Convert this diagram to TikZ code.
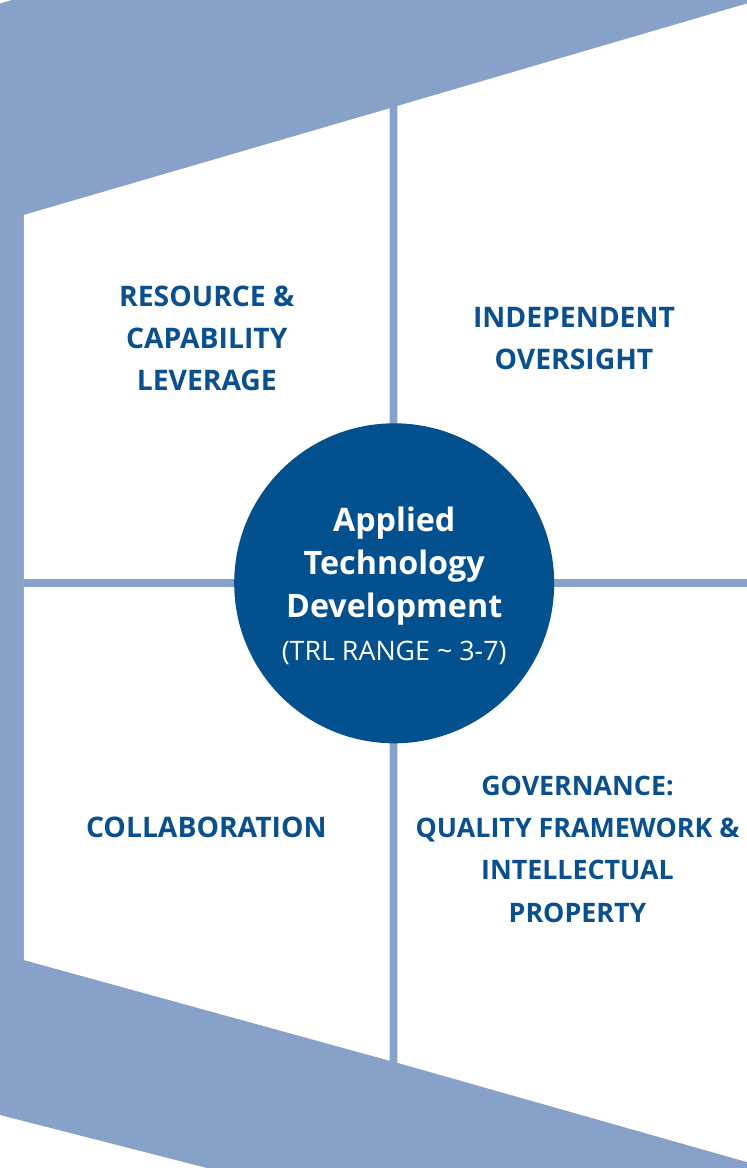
\documentclass[tikz,border=0pt]{standalone}
\usepackage{fontspec}
\setmainfont{Open Sans}
\definecolor{bandblue}{RGB}{136,161,201}
\definecolor{hubblue}{RGB}{3,80,143}
\definecolor{txtblue}{RGB}{10,79,142}
\tikzset{
  panel/.style={fill=white, draw=none},
  band/.style={fill=bandblue, draw=none},
  quad/.style={align=center, inner sep=0pt, text=txtblue, font=\bfseries\fontsize{28.3}{42}\selectfont},
  quadsmall/.style={quad, font=\bfseries\fontsize{26.8}{42.3}\selectfont},
  hub/.style={circle, fill=hubblue, draw=none, minimum size=320pt, inner sep=0pt},
  hubtitle/.style={align=center, inner sep=0pt, text=white, font=\bfseries\fontsize{32.3}{43}\selectfont},
  hubsub/.style={inner sep=0pt, text=white, font=\fontsize{26.8}{33}\selectfont}
}
\begin{document}
\begin{tikzpicture}[x=1pt,y=-1pt]
\useasboundingbox (0,0) rectangle (747,1168);
\fill[white] (0,0) rectangle (747,1168);
% background band shape
\fill[band] (12,0) -- (747,0) -- (747,1168) -- (207,1168) -- (0,1115) -- (0,3.5) -- cycle;
% white panels
\fill[panel] (23.8,215) -- (389.7,108.3) -- (389.7,1060.7) -- (23.8,960) -- cycle;
\fill[panel] (397.3,106) -- (747,3.5) -- (747,1162) -- (397.3,1062.7) -- cycle;
% horizontal divider
\fill[band] (23.8,579.3) rectangle (747,587.3);
% hub
\node[hub] (hub) at (394.2,583.3) {};
\node[hubtitle] (title) at (394.2,566.3) {Applied\\Technology\\Development};
\node[hubsub, anchor=base] (sub) at (394.2,660) {(TRL RANGE \textasciitilde{} 3-7)};
% quadrant texts
\node[quad] (q1) at (206.8,338.5) {RESOURCE \&\\CAPABILITY\\LEVERAGE};
\node[quad] (q2) at (574,338.5) {INDEPENDENT\\OVERSIGHT};
\node[quad] (q3) at (206.3,827) {COLLABORATION};
\node[quadsmall] (q4) at (577.5,849) {GOVERNANCE:\\QUALITY FRAMEWORK \&\\INTELLECTUAL\\PROPERTY};
\end{tikzpicture}
\end{document}
